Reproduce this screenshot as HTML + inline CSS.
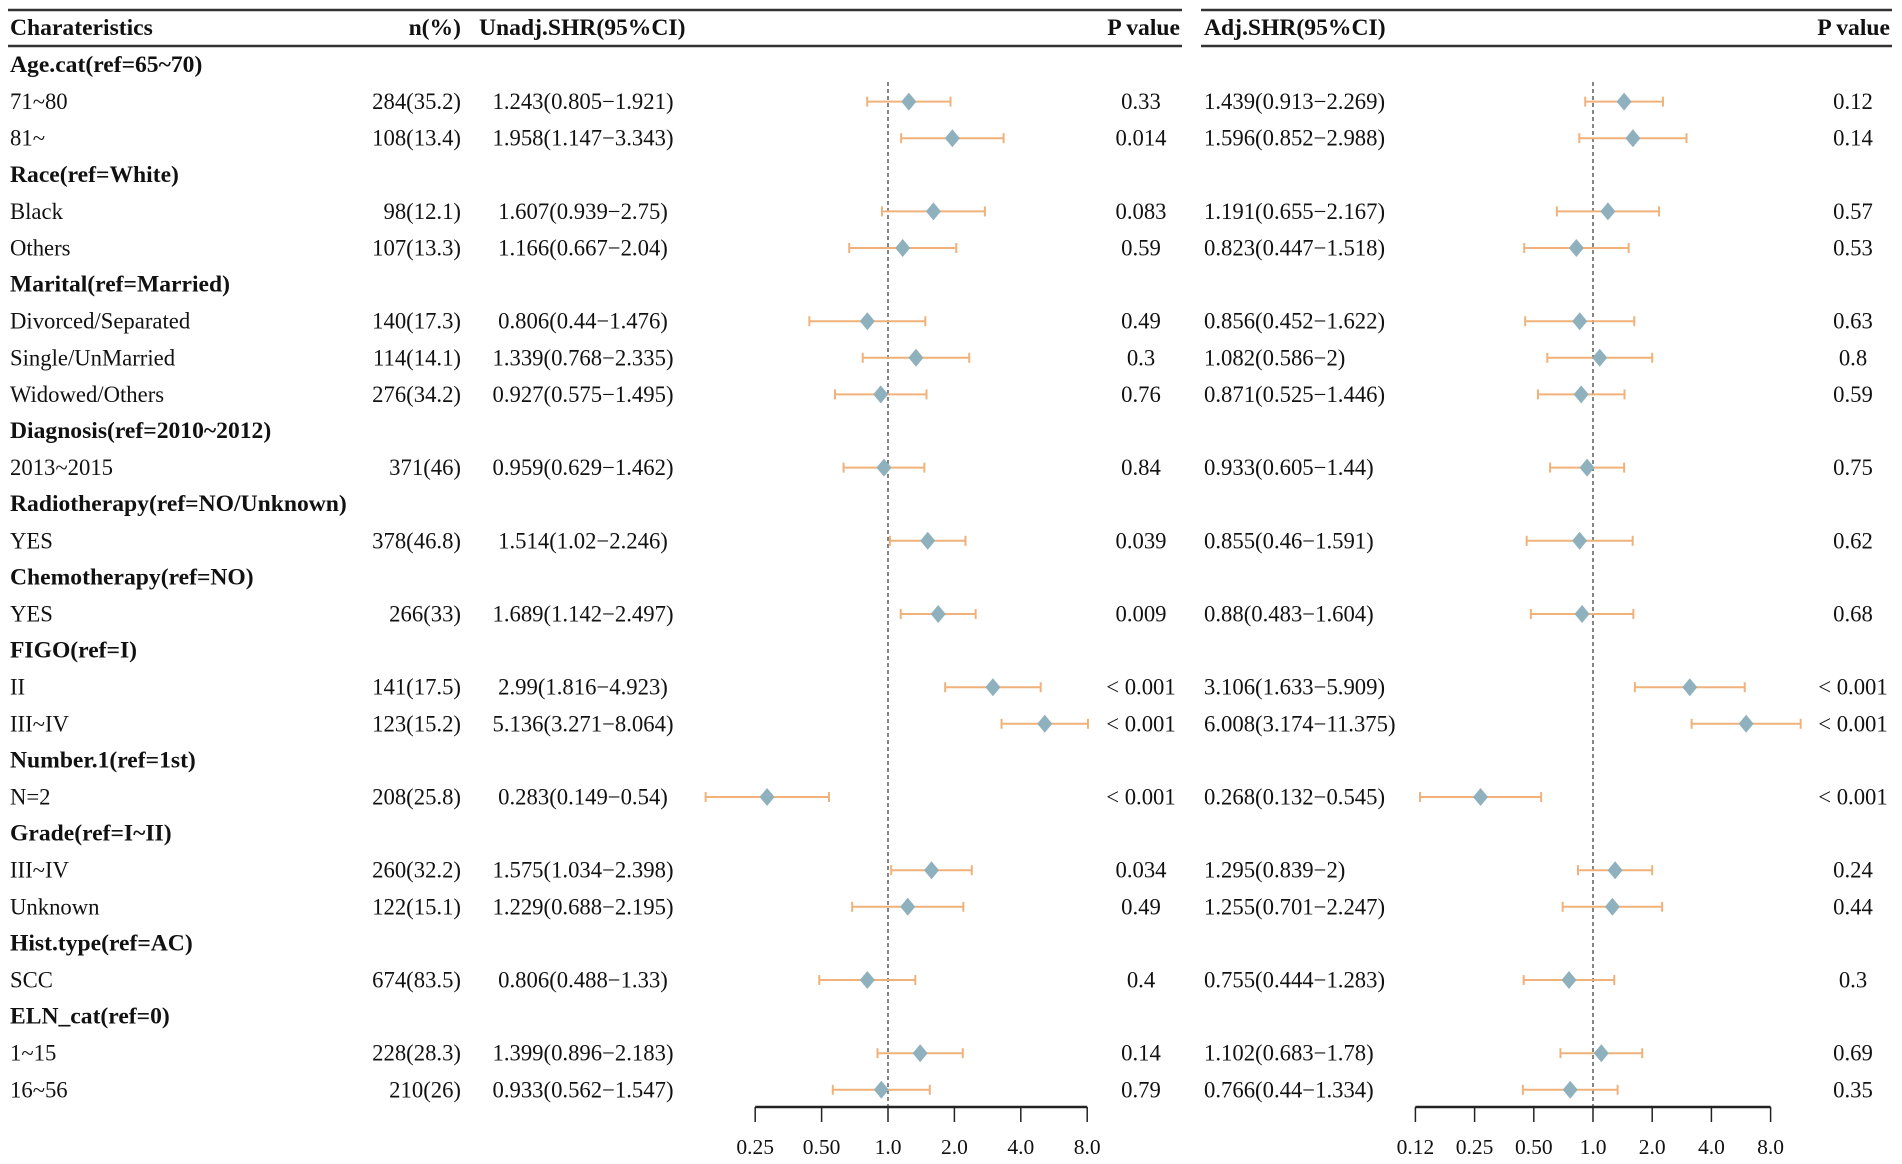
<!DOCTYPE html>
<html><head><meta charset="utf-8"><style>
html,body{margin:0;padding:0;background:#fff}
svg{display:block}
text{font-family:"Liberation Serif",serif;font-size:22.7px;fill:#111}
.b{font-weight:bold;font-size:23.6px}
.tk{font-size:21.5px}
</style></head><body>
<svg id="chart" width="1902" height="1164" viewBox="0 0 1902 1164" xmlns="http://www.w3.org/2000/svg"></svg>
<script>
const labels=["Age.cat(ref=65~70)","71~80","81~","Race(ref=White)","Black","Others","Marital(ref=Married)","Divorced/Separated","Single/UnMarried","Widowed/Others","Diagnosis(ref=2010~2012)","2013~2015","Radiotherapy(ref=NO/Unknown)","YES","Chemotherapy(ref=NO)","YES","FIGO(ref=I)","II","III~IV","Number.1(ref=1st)","N=2","Grade(ref=I~II)","III~IV","Unknown","Hist.type(ref=AC)","SCC","ELN_cat(ref=0)","1~15","16~56"];
const nPct=["","284(35.2)","108(13.4)","","98(12.1)","107(13.3)","","140(17.3)","114(14.1)","276(34.2)","","371(46)","","378(46.8)","","266(33)","","141(17.5)","123(15.2)","","208(25.8)","","260(32.2)","122(15.1)","","674(83.5)","","228(28.3)","210(26)"];
const uHR=[null,1.243,1.958,null,1.607,1.166,null,0.806,1.339,0.927,null,0.959,null,1.514,null,1.689,null,2.99,5.136,null,0.283,null,1.575,1.229,null,0.806,null,1.399,0.933];
const uLo=[null,0.805,1.147,null,0.939,0.667,null,0.44,0.768,0.575,null,0.629,null,1.02,null,1.142,null,1.816,3.271,null,0.149,null,1.034,0.688,null,0.488,null,0.896,0.562];
const uHi=[null,1.921,3.343,null,2.75,2.04,null,1.476,2.335,1.495,null,1.462,null,2.246,null,2.497,null,4.923,8.064,null,0.54,null,2.398,2.195,null,1.33,null,2.183,1.547];
const uP=["","0.33","0.014","","0.083","0.59","","0.49","0.3","0.76","","0.84","","0.039","","0.009","","< 0.001","< 0.001","","< 0.001","","0.034","0.49","","0.4","","0.14","0.79"];
const aHR=[null,1.439,1.596,null,1.191,0.823,null,0.856,1.082,0.871,null,0.933,null,0.855,null,0.88,null,3.106,6.008,null,0.268,null,1.295,1.255,null,0.755,null,1.102,0.766];
const aLo=[null,0.913,0.852,null,0.655,0.447,null,0.452,0.586,0.525,null,0.605,null,0.46,null,0.483,null,1.633,3.174,null,0.132,null,0.839,0.701,null,0.444,null,0.683,0.44];
const aHi=[null,2.269,2.988,null,2.167,1.518,null,1.622,2,1.446,null,1.44,null,1.591,null,1.604,null,5.909,11.375,null,0.545,null,2,2.247,null,1.283,null,1.78,1.334];
const aP=["","0.12","0.14","","0.57","0.53","","0.63","0.8","0.59","","0.75","","0.62","","0.68","","< 0.001","< 0.001","","< 0.001","","0.24","0.44","","0.3","","0.69","0.35"];
const uTicks=[0.25,0.5,1,2,4,8];
const uTickLabels=["0.25","0.50","1.0","2.0","4.0","8.0"];
const aTicks=[0.125,0.25,0.5,1,2,4,8];
const aTickLabels=["0.12","0.25","0.50","1.0","2.0","4.0","8.0"];

const svg=document.getElementById('chart');
const NS='http://www.w3.org/2000/svg';
function mk(tag,attrs,parent){const e=document.createElementNS(NS,tag);for(const k in attrs)e.setAttribute(k,attrs[k]);(parent||svg).appendChild(e);return e;}
function txt(x,y,s,anchor,cls){const t=mk('text',{x:x,y:y,'text-anchor':anchor||'start','dominant-baseline':'central'});if(cls)t.setAttribute('class',cls);t.textContent=s;return t;}
const rowY=i=>65+36.6*i;
const xU=v=>888+66.4*Math.log2(v);
const xA=v=>1593+59.2*Math.log2(v);
const isHead=i=>uHR[i]===null;

[[8,1182],[1201,1892]].forEach(([a,b])=>{
  const l1=mk('line',{x1:a,x2:b,y1:10,y2:10,stroke:'#333','stroke-width':2.5});
  
  
  const l2=mk('line',{x1:a,x2:b,y1:46,y2:46,stroke:'#333','stroke-width':2.5});
  
  
});
let h;
h=txt(10,28,'Charateristics','start','b');
h=txt(461,28,'n(%)','end','b');
h=txt(479,28,'Unadj.SHR(95%CI)','start','b');
h=txt(1180,28,'P value','end','b');
h=txt(1204,28,'Adj.SHR(95%CI)','start','b');
h=txt(1890,28,'P value','end','b');

let r=mk('line',{x1:xU(1),x2:xU(1),y1:82,y2:1107,stroke:'#444','stroke-width':1.3,'stroke-dasharray':'4,3'});

r=mk('line',{x1:xA(1),x2:xA(1),y1:82,y2:1107,stroke:'#444','stroke-width':1.3,'stroke-dasharray':'4,3'});


function drawCI(xf,hr,lo,hi,y,prefix){
  const g=mk('g',{});
  
  
  const c='#f0b27a';
  mk('line',{x1:xf(lo),x2:xf(hi),y1:y,y2:y,stroke:c,'stroke-width':2},g);
  mk('line',{x1:xf(lo),x2:xf(lo),y1:y-5,y2:y+5,stroke:c,'stroke-width':2},g);
  mk('line',{x1:xf(hi),x2:xf(hi),y1:y-5,y2:y+5,stroke:c,'stroke-width':2},g);
  const x=xf(hr);
  mk('polygon',{points:`${x},${y-9} ${x+7.5},${y} ${x},${y+9} ${x-7.5},${y}`,fill:'#8fb1bd'},g);
}
const f=v=>String(v);
labels.forEach((lab,i)=>{
  const y=rowY(i);
  let t;
  if(isHead(i)){
    t=txt(10,y,lab,'start','b');
    return;
  }
  t=txt(10,y,lab);
  t=txt(461,y,nPct[i],'end');
  t=txt(583,y,`${f(uHR[i])}(${f(uLo[i])}\u2212${f(uHi[i])})`,'middle');
  t=txt(1141,y,uP[i],'middle');
  t=txt(1204,y,`${f(aHR[i])}(${f(aLo[i])}\u2212${f(aHi[i])})`,'start');
  t=txt(1853,y,aP[i],'middle');
  drawCI(xU,uHR[i],uLo[i],uHi[i],y,'unadjusted');
  drawCI(xA,aHR[i],aLo[i],aHi[i],y,'adjusted');
});

function axis(xf,ticks,tl,name){
  const g=mk('g',{});
  
  
  mk('line',{x1:xf(ticks[0]),x2:xf(ticks[ticks.length-1]),y1:1107,y2:1107,stroke:'#222','stroke-width':2.5},g);
  ticks.forEach((v,k)=>{
    mk('line',{x1:xf(v),x2:xf(v),y1:1107,y2:1122,stroke:'#222','stroke-width':1.5},g);
    const t=mk('text',{x:xf(v),y:1147,'text-anchor':'middle','dominant-baseline':'central','class':'tk'},g);
    
    
    t.textContent=tl[k];
  });
}
axis(xU,uTicks,uTickLabels,'unadjusted-x-axis');
axis(xA,aTicks,aTickLabels,'adjusted-x-axis');
</script>
</body></html>
